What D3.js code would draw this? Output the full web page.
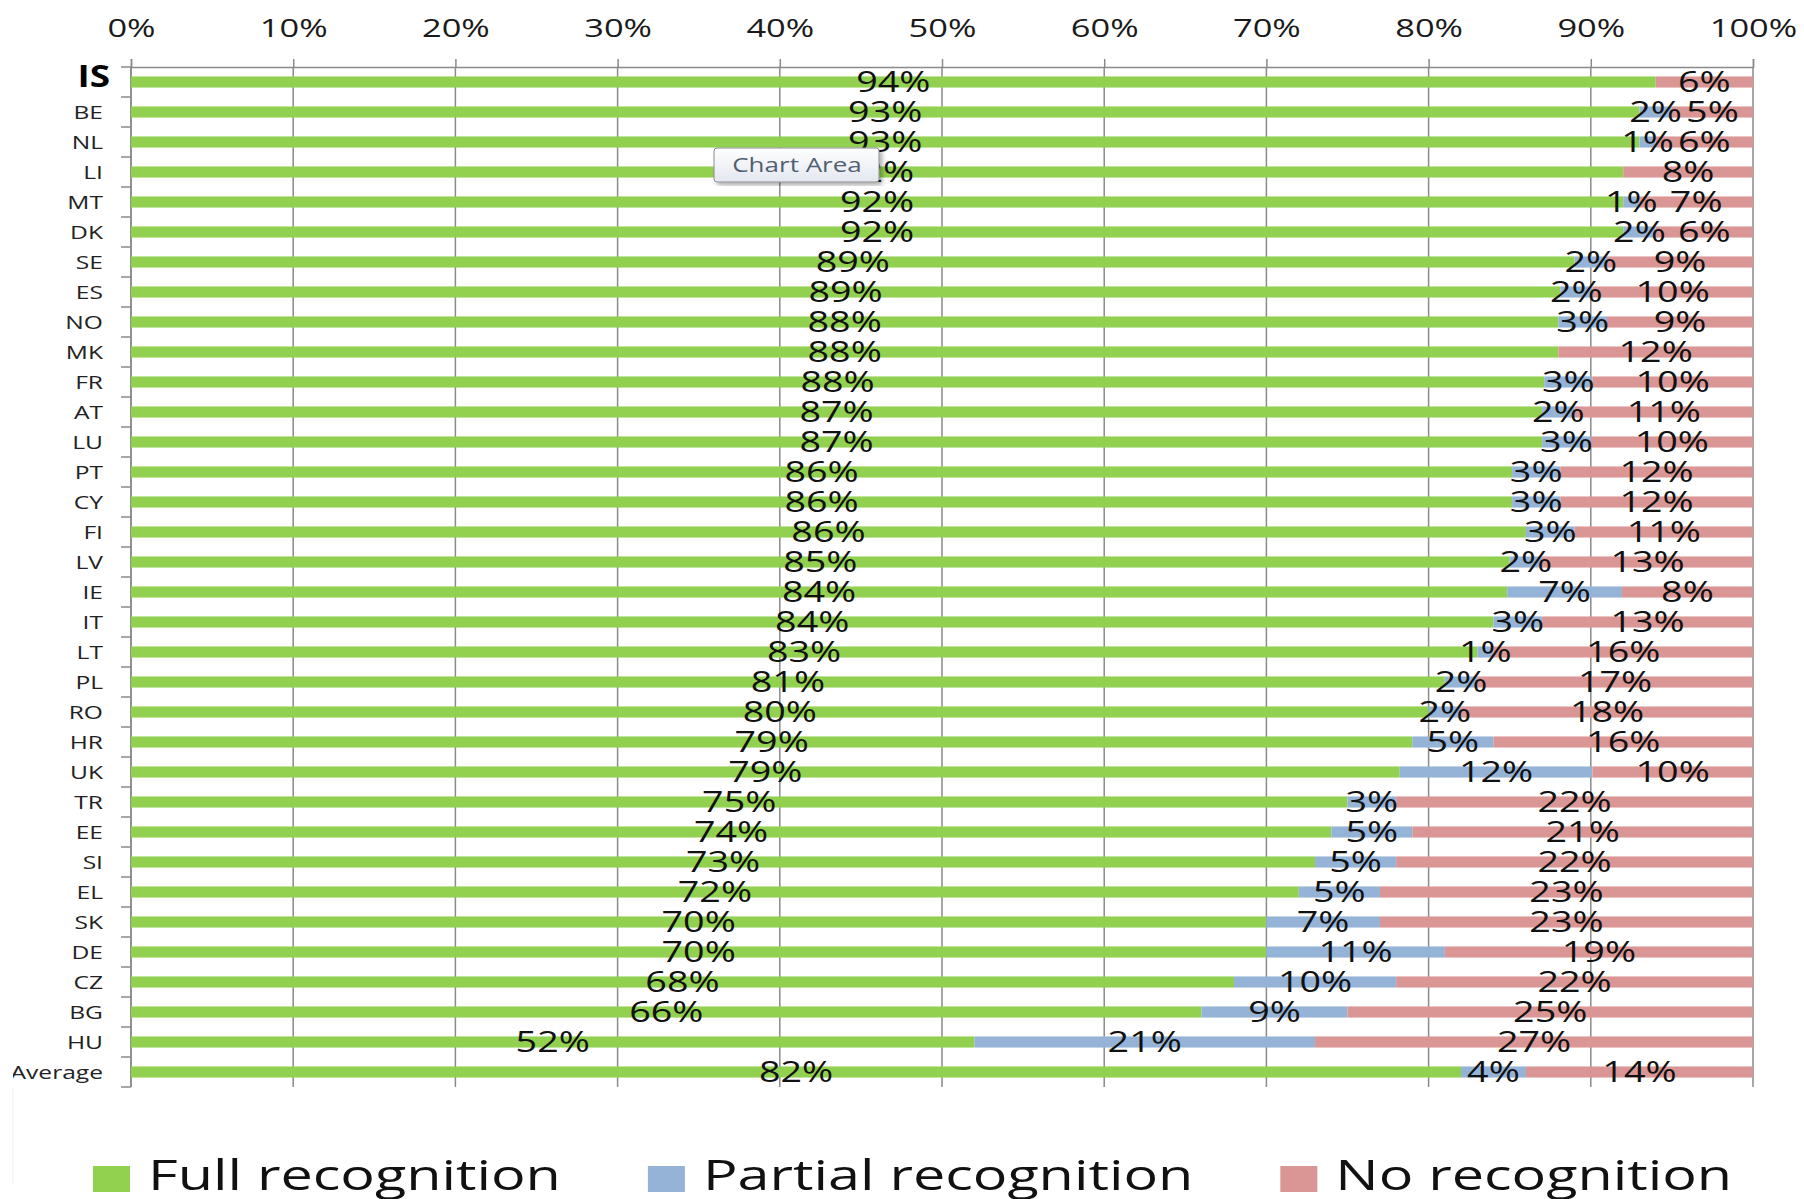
<!DOCTYPE html>
<html>
<head>
<meta charset="utf-8">
<script src="https://d3js.org/d3.v7.min.js"></script>
<style>
  body { margin: 0; background: #fff; }
  text { font-family: "Open Sans", "Noto Sans", sans-serif; }
</style>
</head>
<body>
<script>
// Data
var categories = ['IS', 'BE', 'NL', 'LI', 'MT', 'DK', 'SE', 'ES', 'NO', 'MK', 'FR', 'AT', 'LU', 'PT', 'CY', 'FI', 'LV',
    'IE', 'IT', 'LT', 'PL', 'RO', 'HR', 'UK', 'TR', 'EE', 'SI', 'EL', 'SK', 'DE', 'CZ', 'BG', 'HU', 'Average'];
var fullRecognition = [94, 93, 93, 92, 92, 92, 89, 89, 88, 88, 88, 87, 87, 86, 86, 86, 85,
    84, 84, 83, 81, 80, 79, 79, 75, 74, 73, 72, 70, 70, 68, 66, 52, 82];
var partialRecognition = [0, 2, 1, 0, 1, 2, 2, 2, 3, 0, 3, 2, 3, 3, 3, 3, 2,
    7, 3, 1, 2, 2, 5, 12, 3, 5, 5, 5, 7, 11, 10, 9, 21, 4];
var noRecognition = [6, 5, 6, 8, 7, 6, 9, 10, 9, 12, 10, 11, 10, 12, 12, 11, 13,
    8, 13, 16, 17, 18, 16, 10, 22, 21, 22, 23, 23, 19, 22, 25, 27, 14];
var seriesNames = ['Full recognition', 'Partial recognition', 'No recognition'];
var xTickValues = [0, 10, 20, 30, 40, 50, 60, 70, 80, 90, 100];

var colors = ['#92D050', '#95B3D7', '#D99694'];
var w = 1804,
    h = 1199;
var SX = 1.3; // the reference text is stretched horizontally
var plotL = 131, plotR = 1753, plotT = 67, plotB = 1087;

var rows = categories.map(function(c, i) {
    return { cat: c, 0: fullRecognition[i], 1: partialRecognition[i], 2: noRecognition[i] };
});
var stacked = d3.stack()
    .keys([0, 1, 2])
    .offset(d3.stackOffsetExpand)(rows);

var svg = d3.select('body')
    .append('svg')
    .attr('width', w)
    .attr('height', h);

var x = d3.scaleLinear()
    .domain([0, 100])
    .range([plotL, plotR]);
var y = d3.scaleBand()
    .domain(categories)
    .range([plotT, plotB])
    .paddingInner(0.63)
    .paddingOuter(0.315);

// faint chart area border on the left
svg.append('line')
    .attr('x1', 13).attr('x2', 13)
    .attr('y1', 1088).attr('y2', 1184)
    .attr('stroke', '#ededed')
    .attr('stroke-width', 1);
svg.append('clipPath')
    .attr('id', 'chartclip')
    .append('rect')
    .attr('x', 13).attr('y', 0)
    .attr('width', w).attr('height', h);

// gridlines
svg.append('g')
    .selectAll('line')
    .data(xTickValues)
    .join('line')
    .attr('x1', function(d) { return x(d); })
    .attr('x2', function(d) { return x(d); })
    .attr('y1', plotT)
    .attr('y2', plotB)
    .attr('stroke', '#8a8a8a')
    .attr('stroke-width', 1.5);

// top axis
var xAxis = svg.append('g')
    .attr('transform', 'translate(0,' + plotT + ')')
    .call(d3.axisTop(x)
        .tickValues(xTickValues)
        .tickSize(8)
        .tickFormat(function(d) { return d + '%'; }));
xAxis.select('.domain').attr('stroke', '#8a8a8a').attr('stroke-width', 1.5);
xAxis.selectAll('.tick line').attr('stroke', '#8a8a8a').attr('stroke-width', 1.5);
xAxis.selectAll('.tick text')
    .attr('y', -30.5)
    .attr('dy', 0)
    .attr('font-size', 25.5)
    .attr('font-family', '"Open Sans", sans-serif')
    .attr('fill', '#1a1a1a')
    .attr('transform', 'scale(1.35,1)');

// left axis: line, ticks between categories, labels
var step = y.step();
var yAxis = svg.append('g');
yAxis.append('line')
    .attr('x1', plotL).attr('x2', plotL)
    .attr('y1', plotT).attr('y2', plotB)
    .attr('stroke', '#8a8a8a')
    .attr('stroke-width', 1.5);
yAxis.selectAll('line.tk')
    .data(d3.range(categories.length + 1))
    .join('line')
    .attr('class', 'tk')
    .attr('x1', plotL - 10).attr('x2', plotL)
    .attr('y1', function(i) { return plotT + i * step; })
    .attr('y2', function(i) { return plotT + i * step; })
    .attr('stroke', '#8a8a8a')
    .attr('stroke-width', 1.5);
yAxis.append('g')
    .attr('clip-path', 'url(#chartclip)')
    .selectAll('text')
    .data(categories)
    .join('text')
    .attr('transform', function(d) {
        var big = d === 'IS';
        var cy = y(d) + y.bandwidth() / 2 + (big ? 4.5 : 6.5);
        return 'translate(' + (big ? 110 : 103) + ',' + cy + ') scale(' + (big ? 1.23 : 1.33) + ',1)';
    })
    .attr('text-anchor', 'end')
    .attr('font-size', function(d) { return d === 'IS' ? 30 : 18.5; })
    .attr('font-weight', function(d) { return d === 'IS' ? 'bold' : 'normal'; })
    .attr('fill', function(d) { return d === 'IS' ? '#000' : '#222'; })
    .text(function(d) { return d; });

// bars
var layers = svg.append('g')
    .selectAll('g')
    .data(stacked)
    .join('g')
    .attr('fill', function(d, i) { return colors[i]; });
layers.selectAll('rect')
    .data(function(d) { return d; })
    .join('rect')
    .attr('x', function(d) { return x(d[0] * 100); })
    .attr('width', function(d) { return x(d[1] * 100) - x(d[0] * 100); })
    .attr('y', function(d) { return y(d.data.cat); })
    .attr('height', y.bandwidth());

// data labels, centred on each segment
var labels = svg.append('g');
stacked.forEach(function(layer) {
    labels.selectAll(null)
        .data(layer.filter(function(d) { return d.data[layer.key] > 0; }))
        .join('text')
        .attr('transform', function(d) {
            var cx = x((d[0] + d[1]) * 50);
            var cy = y(d.data.cat) + y.bandwidth() / 2 + 10;
            return 'translate(' + cx + ',' + cy + ') scale(' + SX + ',1)';
        })
        .attr('text-anchor', 'middle')
        .attr('font-size', 29)
        .attr('fill', '#111')
        .text(function(d) { return d.data[layer.key] + '%'; });
});

// "Chart Area" hover tip left in the screenshot
var defs = svg.append('defs');
var grad = defs.append('linearGradient')
    .attr('id', 'tipgrad')
    .attr('x1', 0).attr('y1', 0).attr('x2', 0).attr('y2', 1);
grad.append('stop').attr('offset', '0%').attr('stop-color', '#ffffff');
grad.append('stop').attr('offset', '100%').attr('stop-color', '#e3e7ef');
defs.append('filter')
    .attr('id', 'tipshadow')
    .append('feDropShadow')
    .attr('dx', 3).attr('dy', 3)
    .attr('stdDeviation', 2)
    .attr('flood-color', '#000')
    .attr('flood-opacity', 0.3);
var tip = svg.append('g').attr('transform', 'translate(714,148)');
tip.append('rect')
    .attr('width', 165)
    .attr('height', 34)
    .attr('rx', 3)
    .attr('fill', 'url(#tipgrad)')
    .attr('stroke', '#8c8c8c')
    .attr('filter', 'url(#tipshadow)');
tip.append('text')
    .attr('transform', 'translate(83,24) scale(1.3,1)')
    .attr('text-anchor', 'middle')
    .attr('font-size', 20)
    .attr('fill', '#4f6070')
    .text('Chart Area');

// legend
var lx = 93;
seriesNames.forEach(function(name, i) {
    var g = svg.append('g');
    g.append('rect')
        .attr('x', lx)
        .attr('y', 1166)
        .attr('width', 37)
        .attr('height', 26)
        .attr('fill', colors[i]);
    var t = g.append('text')
        .attr('transform', 'translate(' + (lx + 55) + ',1190) scale(1.37,1)')
        .attr('font-size', 42)
        .attr('fill', '#111')
        .text(name);
    lx = lx + 55 + t.node().getComputedTextLength() * 1.37 + 87;
});
</script>
</body>
</html>
